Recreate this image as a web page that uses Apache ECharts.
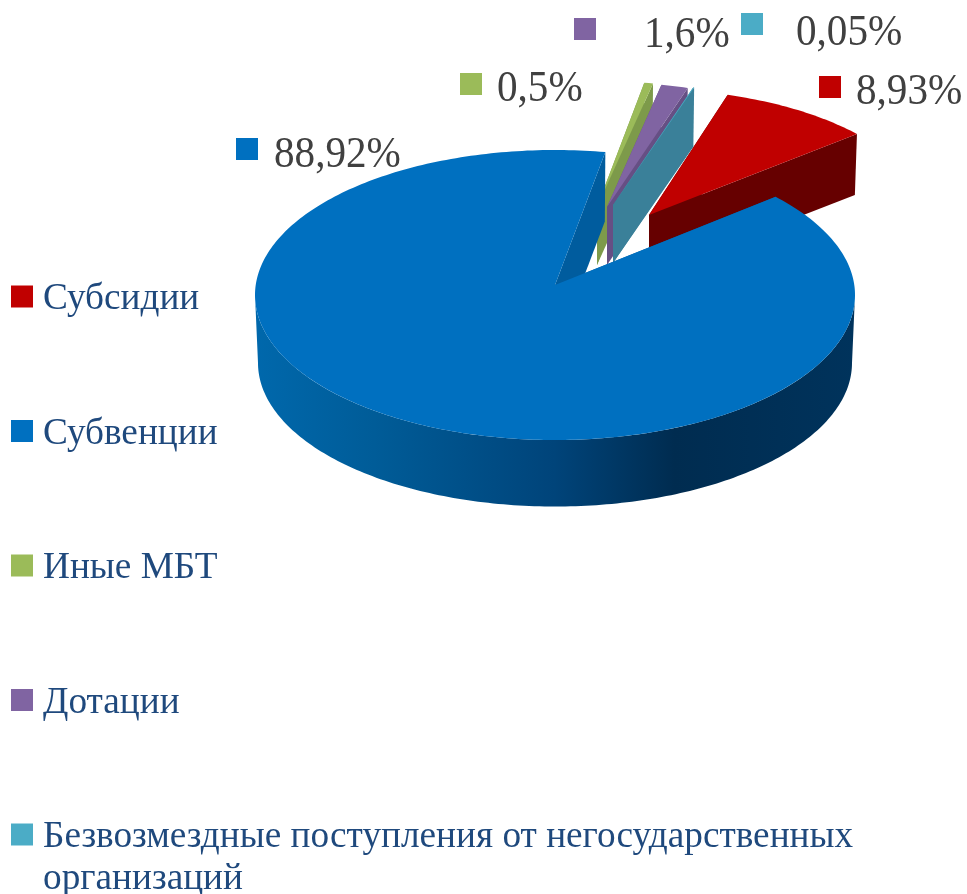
<!DOCTYPE html>
<html>
<head>
<meta charset="utf-8">
<title>МБТ</title>
<style>
  html, body { margin: 0; padding: 0; background: #fff; }
  #main { width: 967px; height: 894px; }
</style>
<script src="https://cdn.jsdelivr.net/npm/echarts@6/dist/echarts.min.js"></script>
</head>
<body>
<div id="main"></div>
<script>
// данные
var categories = [
  "Субсидии",
  "Субвенции",
  "Иные МБТ",
  "Дотации",
  "Безвозмездные поступления от негосударственных\nорганизаций",
];
var shares = [8.93, 88.92, 0.5, 1.6, 0.05];
var shareLabels = ["8,93%", "88,92%", "0,5%", "1,6%", "0,05%"];

// оформление
var topColors = ["#c00000", "#0070c0", "#9bbb59", "#8064a2", "#4bacc6"];
var wallColors = ["#660000", "#005c9e", "#7d9a4a", "#664f84", "#3a8099"];
var START_ANGLE = 16; // градусы от севера, по часовой
var RX = 300;
var RY = 145;

// cx, cy - центр эллипса, k - масштаб, depth - толщина, z - порядок отрисовки
// a0, a1 - поправка углов на перспективу
var slices = [
  { cx: 649, cy: 225, k: 0.935, depth: 60, z: 2, a0: 0.3, a1: -0.3, sw: [819, 76], tx: [856, 92] },
  { cx: 555, cy: 295, k: 1, depth: 68, z: 6, a0: -0.8, a1: 1.4, sw: [236, 138], tx: [274, 155] },
  { cx: 597, cy: 217, k: 0.94, depth: 58, z: 3, a0: 1.4, a1: 1.4, sw: [460, 73], tx: [497, 89] },
  { cx: 607, cy: 217, k: 0.93, depth: 58, z: 4, a0: 1.2, a1: 1.0, sw: [574, 18], tx: [644, 35] },
  { cx: 613, cy: 215, k: 0.92, depth: 58, z: 5, a0: 1.1, a1: 1.1, sw: [741, 13], tx: [796, 33] },
];

function pt(cx, cy, rx, ry, deg) {
  var a = (deg * Math.PI) / 180;
  return [cx + rx * Math.sin(a), cy - ry * Math.cos(a)];
}

function arcPoints(cx, cy, rx, ry, from, to) {
  var n = Math.max(2, Math.ceil(to - from));
  var res = [];
  for (var i = 0; i <= n; i++) {
    res.push(pt(cx, cy, rx, ry, from + ((to - from) * i) / n));
  }
  return res;
}

function wallFill(idx) {
  if (idx !== 1) return wallColors[idx];
  // боковая стенка большого сектора
  return new echarts.graphic.LinearGradient(
    254, 0, 855, 0,
    [
      { offset: 0, color: "#0068ac" },
      { offset: 0.2, color: "#005c98" },
      { offset: 0.5, color: "#00447a" },
      { offset: 0.7, color: "#002c50" },
      { offset: 1, color: "#00335c" },
    ],
    true
  );
}

function sliceRender(idx) {
  return function (params, api) {
    var s = slices[idx];
    var value = api.value(0);
    var total = shares.reduce(function (a, b) { return a + b; }, 0);
    var before = 0;
    for (var i = 0; i < idx; i++) before += shares[i];
    var from = START_ANGLE + (before / total) * 360 + s.a0;
    var to = START_ANGLE + ((before + value) / total) * 360 + s.a1;

    var rx = RX * s.k;
    var ry = RY * s.k;
    var lowCy = s.cy + s.depth;
    var apex = [s.cx, s.cy - 10];
    var apexLow = [s.cx, s.cy - 10 + s.depth];
    var rim = arcPoints(s.cx, s.cy, rx, ry, from, to);
    var low = arcPoints(s.cx, lowCy, rx * 0.99, ry * 0.99, from, to);

    var children = [];
    var poly = function (points, fill) {
      children.push({
        type: "polygon",
        shape: { points: points },
        style: { fill: fill },
        silent: true,
      });
    };
    // внешняя стенка видна только спереди (90..270 градусов)
    var f = Math.max(from, 90);
    var t = Math.min(to, 270);
    if (t > f) {
      poly(
        arcPoints(s.cx, s.cy, rx, ry, f, t).concat(
          arcPoints(s.cx, lowCy, rx * 0.99, ry * 0.99, f, t).reverse()
        ),
        wallFill(idx)
      );
    }
    // срезы
    poly([apex, rim[0], low[0], apexLow], wallColors[idx]);
    poly([apex, rim[rim.length - 1], low[low.length - 1], apexLow], wallColors[idx]);
    // верх
    poly([apex].concat(rim), topColors[idx]);

    // подпись со значком
    children.push({
      type: "rect",
      shape: { x: s.sw[0], y: s.sw[1], width: 22, height: 22 },
      style: { fill: topColors[idx] },
    });
    children.push({
      type: "text",
      x: s.tx[0],
      y: s.tx[1],
      scaleX: 0.925,
      style: {
        x: 0,
        y: 0,
        text: shareLabels[idx],
        fill: "#404040",
        font: '44.5px "Liberation Serif"',
        verticalAlign: "middle",
        align: "left",
      },
    });
    return { type: "group", children: children };
  };
}

var chart = echarts.init(document.getElementById("main"));

var seriesList = categories.map(function (name, i) {
  return {
    name: name,
    type: "custom",
    coordinateSystem: "none",
    renderItem: sliceRender(i),
    z: slices[i].z,
    silent: true,
    itemStyle: { color: topColors[i] },
    data: [[shares[i]]],
  };
});

function legendToken(lineHeight) {
  return {
    fontFamily: "Liberation Serif",
    fontSize: 37.25,
    color: "#1f497d",
    lineHeight: lineHeight,
    padding: [0, 0, 0, 5],
  };
}

chart.setOption({
  animation: false,
  backgroundColor: "#fff",
  legend: {
    orient: "vertical",
    left: 11,
    top: 236.5,
    width: 950,
    height: 800,
    padding: 0,
    itemWidth: 22,
    itemHeight: 22,
    itemGap: 11.5,
    selectedMode: false,
    icon: "rect",
    // значок стоит по середине блока, поэтому в каждом пункте три строки:
    // тогда он приходится на первую строку названия
    formatter: function (name) {
      var lines = name.split("\n");
      return "{top|}\n{line|" + lines[0] + "}\n{low|" + (lines[1] || "") + "}";
    },
    textStyle: {
      rich: {
        top: legendToken(46),
        line: legendToken(43),
        low: legendToken(40),
      },
    },
    data: categories,
  },
  series: seriesList,
});
</script>
</body>
</html>
